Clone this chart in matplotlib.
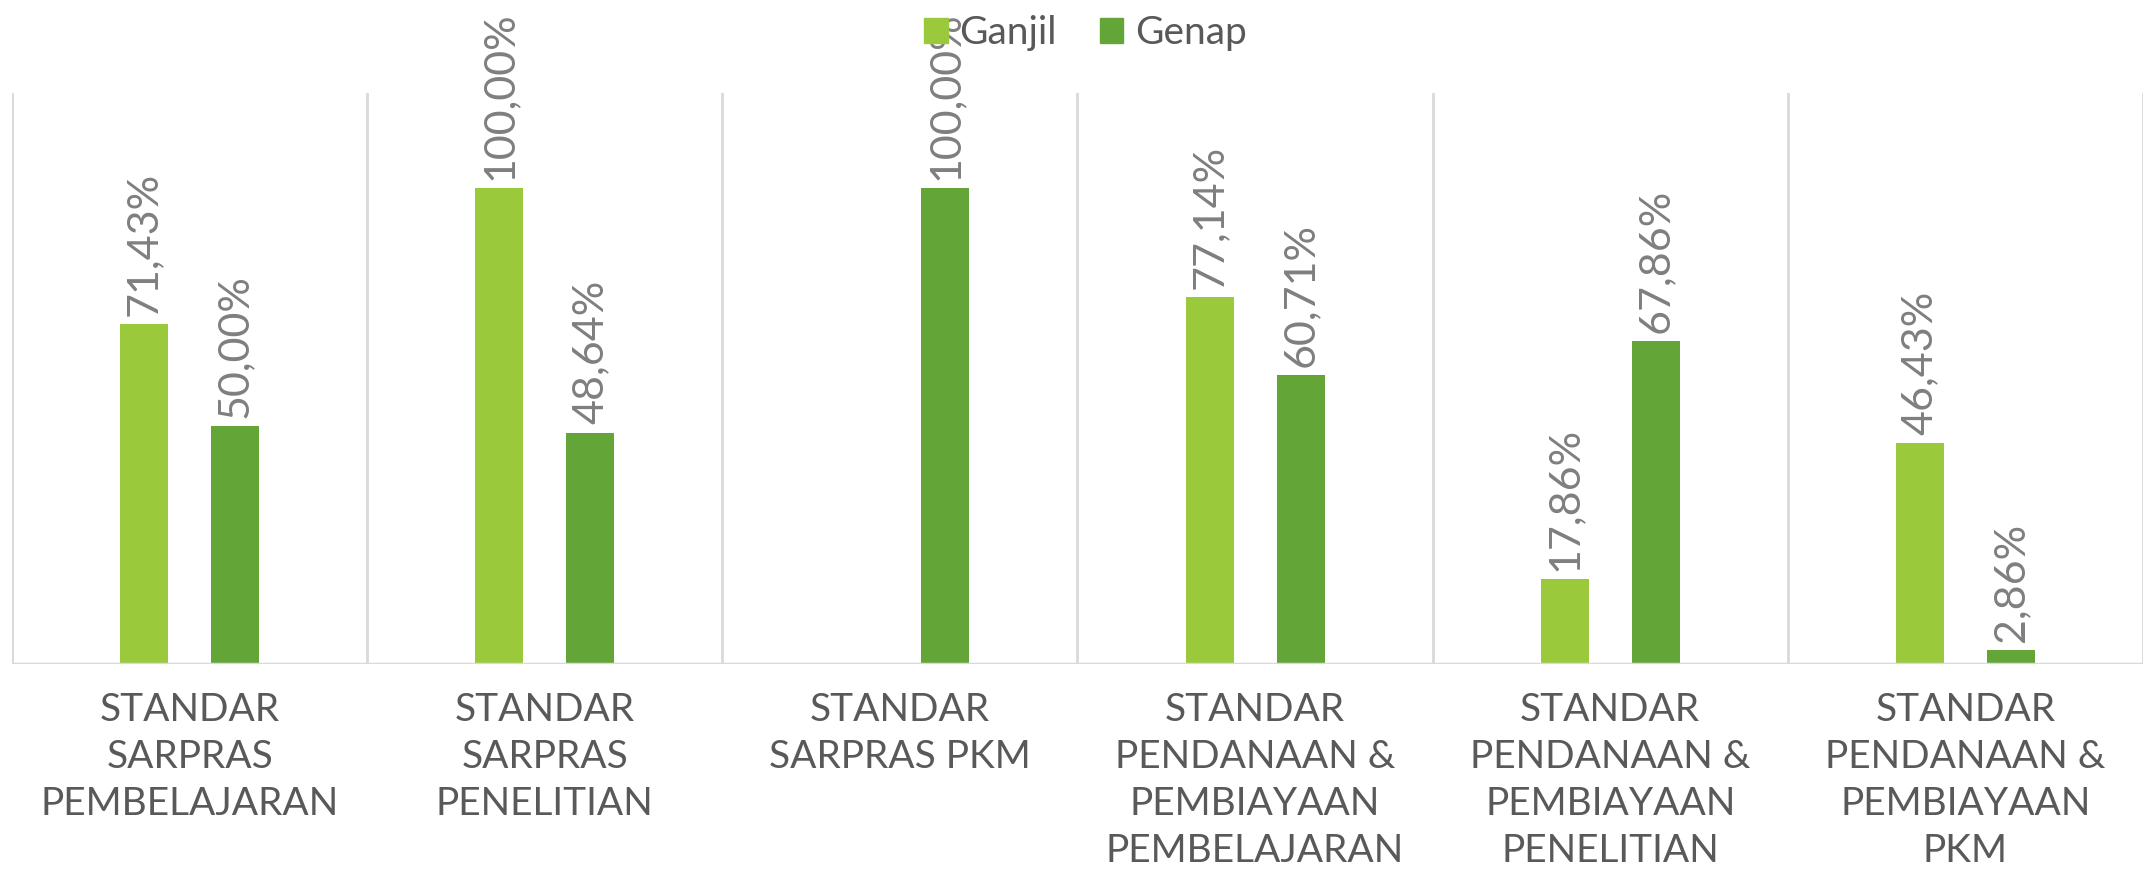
import matplotlib.pyplot as plt
import numpy as np
from matplotlib.patches import Patch

# Data
categories = [
    'STANDAR\nSARPRAS\nPEMBELAJARAN',
    'STANDAR\nSARPRAS\nPENELITIAN',
    'STANDAR\nSARPRAS PKM',
    'STANDAR\nPENDANAAN &\nPEMBIAYAAN\nPEMBELAJARAN',
    'STANDAR\nPENDANAAN &\nPEMBIAYAAN\nPENELITIAN',
    'STANDAR\nPENDANAAN &\nPEMBIAYAAN\nPKM',
]
ganjil = [71.43, 100.00, None, 77.14, 17.86, 46.43]
genap = [50.00, 48.64, 100.00, 60.71, 67.86, 2.86]

c_ganjil = '#9ACA3C'
c_genap = '#63A537'
grey_dark = '#595959'
grey_label = '#7F7F7F'
grid_col = '#D9D9D9'

plt.rcParams['font.family'] = ['Lato', 'DejaVu Sans']

fig = plt.figure(figsize=(21.43, 8.69), dpi=100)
ax = fig.add_axes([12 / 2143, 1 - 664 / 869, 1 - 12 / 2143, (664 - 93) / 869])

x = np.arange(len(categories))
w = 0.135
off = 0.128

for i in range(len(categories)):
    for val, dx, col in [(ganjil[i], -off, c_ganjil), (genap[i], off, c_genap)]:
        if val is None:
            continue
        ax.bar(x[i] + dx, val, width=w, color=col, zorder=3)
        ax.annotate(f'{val:.2f}%'.replace('.', ','), (x[i] + dx, val),
                    xytext=(0, 6), textcoords='offset points',
                    rotation=90, ha='center', va='bottom',
                    fontsize=31, color=grey_label, annotation_clip=False)

ax.set_xlim(-0.5, len(categories) - 0.5)
ax.set_ylim(0, 120)

for b in np.arange(-0.5, len(categories), 1.0):
    ax.axvline(b, color=grid_col, lw=2, zorder=1)
ax.axhline(0, color=grid_col, lw=2.5, zorder=4)

for s in ax.spines.values():
    s.set_visible(False)
ax.set_yticks([])
ax.set_xticks(x)
ax.set_xticklabels(categories, fontsize=28, color=grey_dark, linespacing=1.38)
ax.tick_params(axis='x', length=0, pad=20)

handles = [Patch(color=c_ganjil, label='Ganjil'), Patch(color=c_genap, label='Genap')]
fig.legend(handles=handles, loc='center', bbox_to_anchor=(0.5065, 1 - 33 / 869),
           ncol=2, frameon=False, fontsize=28, labelcolor=grey_dark,
           handlelength=0.6, handleheight=0.6, handletextpad=0.3, columnspacing=1.1)

fig.savefig('out.png', dpi=100)
